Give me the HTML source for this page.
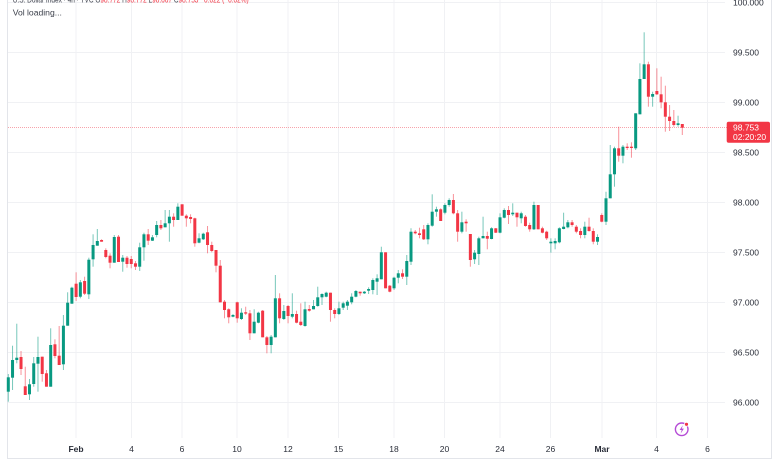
<!DOCTYPE html>
<html><head><meta charset="utf-8">
<style>
html,body{margin:0;padding:0;background:#fff;}
body{width:780px;height:470px;overflow:hidden;position:relative;font-family:"Liberation Sans",sans-serif;}
svg{position:absolute;left:0;top:0;}
</style></head>
<body>
<svg width="780" height="470" viewBox="0 0 780 470" xmlns="http://www.w3.org/2000/svg" font-family="Liberation Sans, sans-serif">
<rect x="0" y="0" width="780" height="470" fill="#fff"/>
<!-- frame -->
<line x1="7.5" y1="0" x2="7.5" y2="459" stroke="#e3e5ea" stroke-width="1"/>
<line x1="7" y1="458.5" x2="772" y2="458.5" stroke="#e3e5ea" stroke-width="1"/>
<line x1="771.5" y1="0" x2="771.5" y2="459" stroke="#e3e5ea" stroke-width="1"/>
<!-- horizontal grid -->
<g stroke="#f0f1f4" stroke-width="1">
<line x1="8" x2="725" y1="2.5" y2="2.5"/>
<line x1="8" x2="725" y1="52.5" y2="52.5"/>
<line x1="8" x2="725" y1="102.5" y2="102.5"/>
<line x1="8" x2="725" y1="152.5" y2="152.5"/>
<line x1="8" x2="725" y1="202.5" y2="202.5"/>
<line x1="8" x2="725" y1="252.5" y2="252.5"/>
<line x1="8" x2="725" y1="302.5" y2="302.5"/>
<line x1="8" x2="725" y1="352.5" y2="352.5"/>
<line x1="8" x2="725" y1="402.5" y2="402.5"/>
</g>
<!-- vertical grid -->
<g stroke="#f0f1f4" stroke-width="1">
<line x1="76" x2="76" y1="0" y2="438"/>
<line x1="131.5" x2="131.5" y1="0" y2="438"/>
<line x1="182" x2="182" y1="0" y2="438"/>
<line x1="237" x2="237" y1="0" y2="438"/>
<line x1="288" x2="288" y1="0" y2="438"/>
<line x1="338.5" x2="338.5" y1="0" y2="438"/>
<line x1="394" x2="394" y1="0" y2="438"/>
<line x1="444.5" x2="444.5" y1="0" y2="438"/>
<line x1="500" x2="500" y1="0" y2="438"/>
<line x1="550.5" x2="550.5" y1="0" y2="438"/>
<line x1="602" x2="602" y1="0" y2="438"/>
<line x1="656.5" x2="656.5" y1="0" y2="438"/>
<line x1="707.5" x2="707.5" y1="0" y2="438"/>
</g>
<!-- last price dotted line -->
<line x1="8" x2="727" y1="127.5" y2="127.5" stroke="#f7a3ab" stroke-width="1" stroke-dasharray="1 1"/>
<!-- candles -->
<g id="c"></g>
<!-- price axis labels -->
<g font-size="8.5" fill="#2a2e39">
<text x="733" y="5.5">100.000</text>
<text x="733" y="55.5">99.500</text>
<text x="733" y="105.5">99.000</text>
<text x="733" y="155.5">98.500</text>
<text x="733" y="205.5">98.000</text>
<text x="733" y="255.5">97.500</text>
<text x="733" y="305.5">97.000</text>
<text x="733" y="355.5">96.500</text>
<text x="733" y="405.5">96.000</text>
</g>
<!-- last price tag -->
<rect x="726.7" y="121.7" width="43.3" height="21" rx="2" fill="#f23645"/>
<text x="733" y="130.3" font-size="8.5" fill="#fff">98.753</text>
<text x="733" y="140" font-size="8.5" fill="#fff">02:20:20</text>
<!-- time axis labels -->
<g font-size="8.5" fill="#2a2e39" text-anchor="middle">
<text x="76" y="452" font-weight="bold">Feb</text>
<text x="131.5" y="452">4</text>
<text x="182" y="452">6</text>
<text x="237" y="452">10</text>
<text x="288" y="452">12</text>
<text x="338.5" y="452">15</text>
<text x="394" y="452">18</text>
<text x="444.5" y="452">20</text>
<text x="500" y="452">24</text>
<text x="550.5" y="452">26</text>
<text x="602" y="452" font-weight="bold">Mar</text>
<text x="656.5" y="452">4</text>
<text x="707.5" y="452">6</text>
</g>
<!-- lightning icon -->
<circle cx="681.7" cy="429.3" r="6.3" fill="#fff" stroke="#b54bd6" stroke-width="1.4"/>
<path d="M682.8 425.2 L679.6 430 L681.7 430 L680.6 433.6 L683.9 428.6 L681.8 428.6 Z" fill="#b54bd6"/>
<circle cx="686.5" cy="424.3" r="2" fill="#f23645" stroke="#fff" stroke-width="0.8"/>
<!-- legend -->
<text x="12.7" y="2.5" font-size="8.4" fill="#3b3f4a" textLength="236" lengthAdjust="spacingAndGlyphs">U.S. Dollar Index · 4h · TVC  O<tspan fill="#f23645">98.772</tspan> H<tspan fill="#f23645">98.772</tspan> L<tspan fill="#f23645">98.667</tspan> C<tspan fill="#f23645">98.753 −0.022 (−0.02%)</tspan></text>
<text x="12.7" y="15.3" font-size="8.6" fill="#3b3f4a">Vol loading...</text>
</svg>
<script>
const d=[
[1,377.3,391.7,374,401.7],[1,360,377.7,345.7,390],[1,357.7,360,323.7,363.3],[0,357,369,351,375],[0,386.3,395,366.7,395],
[1,384.3,394.3,379,400],[1,363.3,384,357,386.7],[1,357,363.7,336.7,391.7],[0,356.7,374,356.7,381.7],[0,373.3,386.7,370,386.7],
[1,345,386.7,328.3,386.7],[0,344.3,356,339.3,358.3],[0,355.7,365,326,365],[1,325.7,364.3,315,370],[1,302.7,325.7,292.3,325.7],
[1,287.7,303.7,286.7,303.7],[0,283.7,297,272.3,301],[1,282.3,296.7,280,298.3],[0,281,293.7,276.7,295],[1,259.7,294.3,257.7,299],
[1,245,259.3,234.3,266.7],[1,241,245.7,229,245.7],[0,240,241.7,239.3,241.7],[0,250,257,248.3,258.3],[0,255.7,262.7,253.3,268.3],
[1,237,262.7,235,262.7],[0,236.7,262,235,262],[1,257.7,261.7,255,271.7],[0,257.7,264,256,267.7],[0,259,264,256,268.3],
[0,263.3,266.7,261,270],[1,247.3,266.7,242.7,271],[1,234.3,247.3,232.7,260.7],[0,234.3,240.7,229,245],[1,237.3,240.7,235,241],
[1,225,235,221,237.3],[0,225,228.3,220,230],[1,223.3,227.3,210,227.3],[1,216.7,223.3,210,241.7],[0,216.7,220,213.3,226.7],
[1,206.7,220,203.3,220],[0,204.3,215.7,204.3,215.7],[0,215.7,218.3,214.3,226.7],[0,217,219,214.3,223.3],[0,218.3,243.3,217.7,246.7],
[1,238.3,242.7,233.3,243.3],[1,233.7,239.3,232.7,240],[0,232.3,245,226,253.3],[0,245,251,241.7,252.3],[0,250,265.7,250,272.3],
[0,265.7,302.3,260,302.3],[0,301.7,310,300,318.3],[0,309.3,317.3,308.3,323.3],[1,315,316.7,314,317.3],[0,302.3,318.3,301.7,322.7],
[1,312.7,319,308.3,320],[0,312.3,313.3,306.7,315],[0,313.3,333.3,310,340],[1,321.7,333.3,309.3,333.3],[1,312.7,322.7,311.7,323.3],
[0,310.7,337.3,310,337.3],[0,337.3,345,336,353.3],[1,336.7,345,335,353.3],[1,298.3,337.3,275,337.3],[0,298.3,318.3,293.3,323.3],
[1,311,319,305,320],[0,306,316,305,323.3],[1,314,316.7,293.3,318.3],[0,314,322.7,310.7,323.3],[0,321.7,325,303.3,326],
[1,309.3,326,301.7,326.7],[0,309,310.7,305,311.7],[1,306,309.3,300,309.3],[1,297.3,306,286.7,306.7],[1,294,297.3,293.3,305],
[1,292.7,296.7,291.7,297.3],[0,292.7,310,292.7,321.7],[0,310,314,308.3,318.3],[1,308.3,314,301.7,315],[1,303.3,307.7,301.7,310],
[1,301.7,305.7,300,310],[1,296.7,302.3,293.3,304.3],[1,291,296.7,290,297.3],[0,291.7,293.3,291.7,295.7],[1,291.7,293.3,291,294],
[1,289,290.7,287.3,294],[1,280,290,278.3,294.3],[1,278.3,281.7,274.3,295],[1,252.3,279.3,246.7,279.3],[0,252.3,288.3,252.3,288.3],
[0,285.7,291.7,285,292.3],[1,277.7,288.3,276.7,290],[1,273.3,277.7,270,283.3],[0,273.3,276.7,269.3,279],[1,261,276.7,255,285],
[1,231.7,261.7,228.3,265],[0,231.7,233.3,230,234.3],[0,233.3,235,227.7,238.3],[0,229.3,239.3,225,240],[1,225,239.3,223.3,244.3],
[1,211.7,225.7,194.3,226.7],[1,209.3,211.7,206.7,216.7],[0,209.3,221,208.3,221],[1,205,212.7,203.3,214.3],[1,200,205,198.3,206.7],
[0,200,213.3,194,214.3],[0,213.3,231.7,210,241.7],[1,222.3,231.7,211.7,233.3],[0,221.7,223.3,219.3,231.7],[0,234,260,234,266.7],
[1,252.7,259.3,250,264],[1,238.3,254,236.7,265],[1,236,238.3,216.7,238.3],[0,236,238.7,231.7,249.3],[1,228.3,239,227.3,239.3],
[0,228.3,232.7,228,233],[1,217.3,232.7,213.3,233.3],[1,210,217.7,208.3,218.3],[0,210,215,206,224],[1,212.7,214.3,203.3,216],
[0,212.7,217.3,212.7,226.7],[1,213.3,218.3,211.7,223.3],[0,216.7,226,215,226.7],[0,225,229.3,222.7,231.7],[1,205,229.3,201.7,230],
[0,205,229.3,205,229.3],[0,228.3,232.7,226.7,233.3],[0,231.7,238.3,230.7,240],[1,241.7,243.3,238.3,252.7],[1,241,243.3,238.3,249.3],
[1,228.3,242.3,227.3,243.3],[1,226.7,229,212.7,229.3],[1,222.3,227.3,220,228.3],[0,222.3,225,220,226.7],[0,226.7,231.7,225,233.3],
[0,231,235,228.3,238.3],[1,226.7,235,221.7,238.3],[0,226.7,231,217.7,231.7],[0,231,241.7,228.3,244.3],[1,237,241.7,234.3,245],
[0,215,221.7,213.3,222.3],[1,198.3,221.7,191.7,225],[1,174.3,198.3,145,198.3],[1,148.3,174.3,146.7,186.7],[0,148.3,155.7,126.7,161.7],
[1,146.7,155.7,145,163.3],[0,146.7,147.7,143.3,150],[0,146.7,147.7,142.3,157.7],[1,113.3,148.3,113.3,150],[1,79,114.3,63.3,114.3],
[1,64.3,79,32.3,79],[0,64.3,96.7,61.7,106.7],[1,94,96.7,91.7,106.7],[0,91,94.3,68.3,95],[0,94.3,102.3,76.7,108.3],
[0,102.3,116.7,85.7,131.7],[0,116.7,121,105,131],[0,121,125,110,126.7],[1,123.3,125,115.7,126.7],[0,124,127.7,124,135]
];
(function(){
const n=d.length,x0=8.3,x1=682.3,st=(x1-x0)/(n-1);
let s='';
d.forEach(function(c,i){
  const x=x0+i*st;
  const col=c[0]?'#089981':'#f23645';
  const wt=Math.min(c[3],c[1]), wb=Math.max(c[4],c[2]);
  s+='<line x1="'+x.toFixed(2)+'" x2="'+x.toFixed(2)+'" y1="'+wt+'" y2="'+wb+'" stroke="'+col+'" stroke-opacity="0.55" stroke-width="1"/>';
  const h=Math.max(c[2]-c[1],1.3);
  s+='<rect x="'+(x-1.5).toFixed(2)+'" y="'+c[1]+'" width="3" height="'+h.toFixed(2)+'" fill="'+col+'"/>';
});
document.getElementById('c').innerHTML=s;
})();
</script>
</body></html>
